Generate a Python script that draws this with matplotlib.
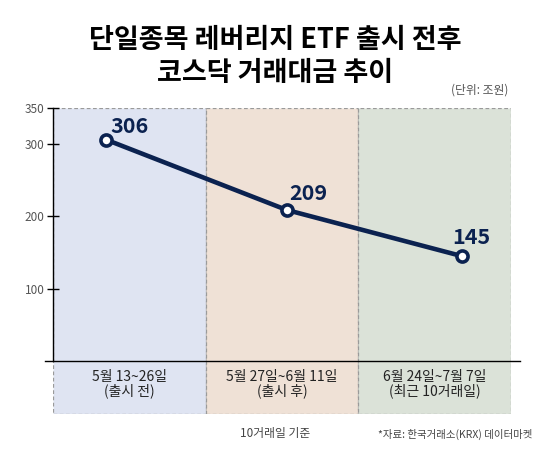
import matplotlib.pyplot as plt
from matplotlib.patches import Rectangle

plt.rcParams['font.family'] = ['Noto Sans CJK KR', 'DejaVu Sans']

# data
periods = ["5월 13~26일\n(출시 전)", "5월 27일~6월 11일\n(출시 후)", "6월 24일~7월 7일\n(최근 10거래일)"]
values = [306, 209, 145]
yticks = [100, 200, 300, 350]

# layout: point offsets inside each period panel
marker_shift = [-0.15, 0.03, 0.18]
panel_colors = ["#dfe4f2", "#efe1d6", "#dbe2d8"]
navy = "#0b2250"

W, H = 550, 450
fig = plt.figure(figsize=(5.5, 4.5), dpi=100)

# axes spans panel area: x 53..511 px, y 108..414 px, zero line at 361
ax_left, ax_right = 53, 511
ax_top, ax_bot = 108, 414
zero_y = 361
ax = fig.add_axes([ax_left / W, 1 - ax_bot / H, (ax_right - ax_left) / W, (ax_bot - ax_top) / H])
units_per_px = 350 / (zero_y - ax_top)
ax.set_ylim(-(ax_bot - zero_y) * units_per_px, 350)
ax.set_xlim(-0.5, 2.5)

for i, c in enumerate(panel_colors):
    ax.add_patch(Rectangle((i - 0.5, ax.get_ylim()[0]), 1, 350 - ax.get_ylim()[0],
                           facecolor=c, edgecolor="#9a9a9a", linestyle=(0, (3, 2)),
                           linewidth=0.9, zorder=0))
    ax.text(i, -32, periods[i], ha="center", va="center", fontsize=10,
            color="#222222", linespacing=1.0)

xs = [i + s for i, s in enumerate(marker_shift)]
ax.plot(xs, values, color=navy, linewidth=3.3, marker="o", markersize=8,
        markerfacecolor="white", markeredgecolor=navy, markeredgewidth=2.6, zorder=3)

label_offsets = [(3, 2), (2, 4), (-7, 6)]
for x, v, off in zip(xs, values, label_offsets):
    ax.annotate(str(v), (x, v), xytext=off, textcoords="offset points",
                ha="left", va="bottom", fontsize=15.5, fontweight="bold", color=navy)

for s in ["top", "right", "bottom"]:
    ax.spines[s].set_visible(False)
ax.spines["left"].set_bounds(0, 350)
ax.spines["left"].set_color("black")
ax.spines["left"].set_linewidth(1.0)
ax.set_xticks([])
ax.set_yticks(yticks)
ax.set_yticklabels([str(t) for t in yticks])
ax.tick_params(axis="y", direction="inout", length=8, width=1.0, labelsize=8.5,
               labelcolor="#555555", pad=2)

# zero line extending past the axes
ax.plot([-0.5 - 8 / 153, 2.5 + 9 / 153], [0, 0], color="black", linewidth=1.0,
        clip_on=False, zorder=4)

# titles and notes
fig.text(0.5, 1 - 40 / H, "단일종목 레버리지 ETF 출시 전후", ha="center", va="center",
         fontsize=19.5, fontweight="bold", color="black")
fig.text(0.5, 1 - 73 / H, "코스닥 거래대금 추이", ha="center", va="center",
         fontsize=19.5, fontweight="bold", color="black")
fig.text(508 / W, 1 - 90 / H, "(단위: 조원)", ha="right", va="center",
         fontsize=8.5, color="#555555")
fig.text(275 / W, 1 - 434 / H, "10거래일 기준", ha="center", va="center",
         fontsize=8.5, color="#444444", style="italic")
fig.text(532 / W, 1 - 434 / H, "*자료: 한국거래소(KRX) 데이터마켓", ha="right", va="center",
         fontsize=7.5, color="#444444")

fig.savefig("out.png", dpi=100)
